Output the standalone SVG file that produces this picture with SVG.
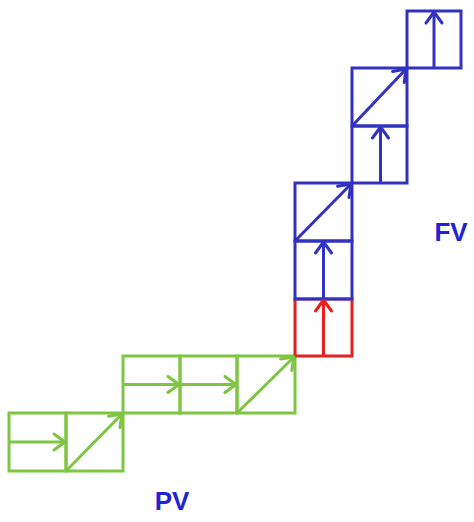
<svg xmlns="http://www.w3.org/2000/svg" width="474" height="522" viewBox="0 0 474 522">
  <style>
    .cell { fill: none; stroke-width: 3; stroke-linejoin: miter; }
    .arrow { fill: none; stroke-width: 3; stroke-linecap: butt; }
    .head { fill: none; stroke-width: 3; stroke-linecap: round; stroke-linejoin: round; }
    .g { stroke: #7ec542; }
    .r { stroke: #e5201f; }
    .b { stroke: #3232c2; }
    .label { font-family: "Liberation Sans", Arial, sans-serif; font-weight: bold; font-size: 26px; fill: #2222d4; }
  </style>
  <defs>
    <marker id="headG" viewBox="-13 -10 15 20" markerWidth="15" markerHeight="20" refX="0" refY="0" orient="auto" markerUnits="userSpaceOnUse">
      <path class="head g" d="M-11,-8 L0,0 L-11,8"/>
    </marker>
    <marker id="headR" viewBox="-13 -10 15 20" markerWidth="15" markerHeight="20" refX="0" refY="0" orient="auto" markerUnits="userSpaceOnUse">
      <path class="head r" d="M-11,-8 L0,0 L-11,8"/>
    </marker>
    <marker id="headB" viewBox="-13 -10 15 20" markerWidth="15" markerHeight="20" refX="0" refY="0" orient="auto" markerUnits="userSpaceOnUse">
      <path class="head b" d="M-11,-8 L0,0 L-11,8"/>
    </marker>
  </defs>

  <!-- green path steps -->
  <g id="g1"><rect class="cell g" x="9" y="413" width="57" height="58"/></g>
  <g id="g2"><rect class="cell g" x="66" y="413" width="57" height="58"/></g>
  <g id="g3"><rect class="cell g" x="123" y="356" width="57" height="57"/></g>
  <g id="g4"><rect class="cell g" x="180" y="356" width="57" height="57"/></g>
  <g id="g5"><rect class="cell g" x="237" y="356" width="58" height="57"/></g>

  <!-- current step -->
  <g id="r1"><rect class="cell r" x="295" y="299" width="57" height="57"/></g>

  <!-- blue path steps -->
  <g id="b1"><rect class="cell b" x="295" y="241" width="57" height="58"/></g>
  <g id="b2"><rect class="cell b" x="295" y="183" width="57" height="58"/></g>
  <g id="b3"><rect class="cell b" x="352" y="126" width="55" height="57"/></g>
  <g id="b4"><rect class="cell b" x="352" y="68" width="55" height="58"/></g>
  <g id="b5"><rect class="cell b" x="407" y="11" width="54" height="57"/></g>

  <!-- moves -->
  <g id="connectors">
    <line class="arrow g" x1="9" y1="442" x2="65" y2="442" marker-end="url(#headG)"/>
    <line class="arrow g" x1="66" y1="471" x2="122" y2="414" marker-end="url(#headG)"/>
    <line class="arrow g" x1="123" y1="384.5" x2="179" y2="384.5" marker-end="url(#headG)"/>
    <line class="arrow g" x1="180" y1="384.5" x2="236" y2="384.5" marker-end="url(#headG)"/>
    <line class="arrow g" x1="237" y1="413" x2="294" y2="357" marker-end="url(#headG)"/>
    <line class="arrow r" x1="323.5" y1="356" x2="323.5" y2="300" marker-end="url(#headR)"/>
    <line class="arrow b" x1="323.5" y1="299" x2="323.5" y2="242" marker-end="url(#headB)"/>
    <line class="arrow b" x1="295" y1="241" x2="351" y2="184" marker-end="url(#headB)"/>
    <line class="arrow b" x1="380.5" y1="183" x2="380.5" y2="127" marker-end="url(#headB)"/>
    <line class="arrow b" x1="352" y1="126" x2="406" y2="69" marker-end="url(#headB)"/>
    <line class="arrow b" x1="434" y1="68" x2="434" y2="12" marker-end="url(#headB)"/>
  </g>

  <text class="label" x="172" y="510" text-anchor="middle">PV</text>
  <text class="label" x="451" y="241" text-anchor="middle">FV</text>
</svg>
